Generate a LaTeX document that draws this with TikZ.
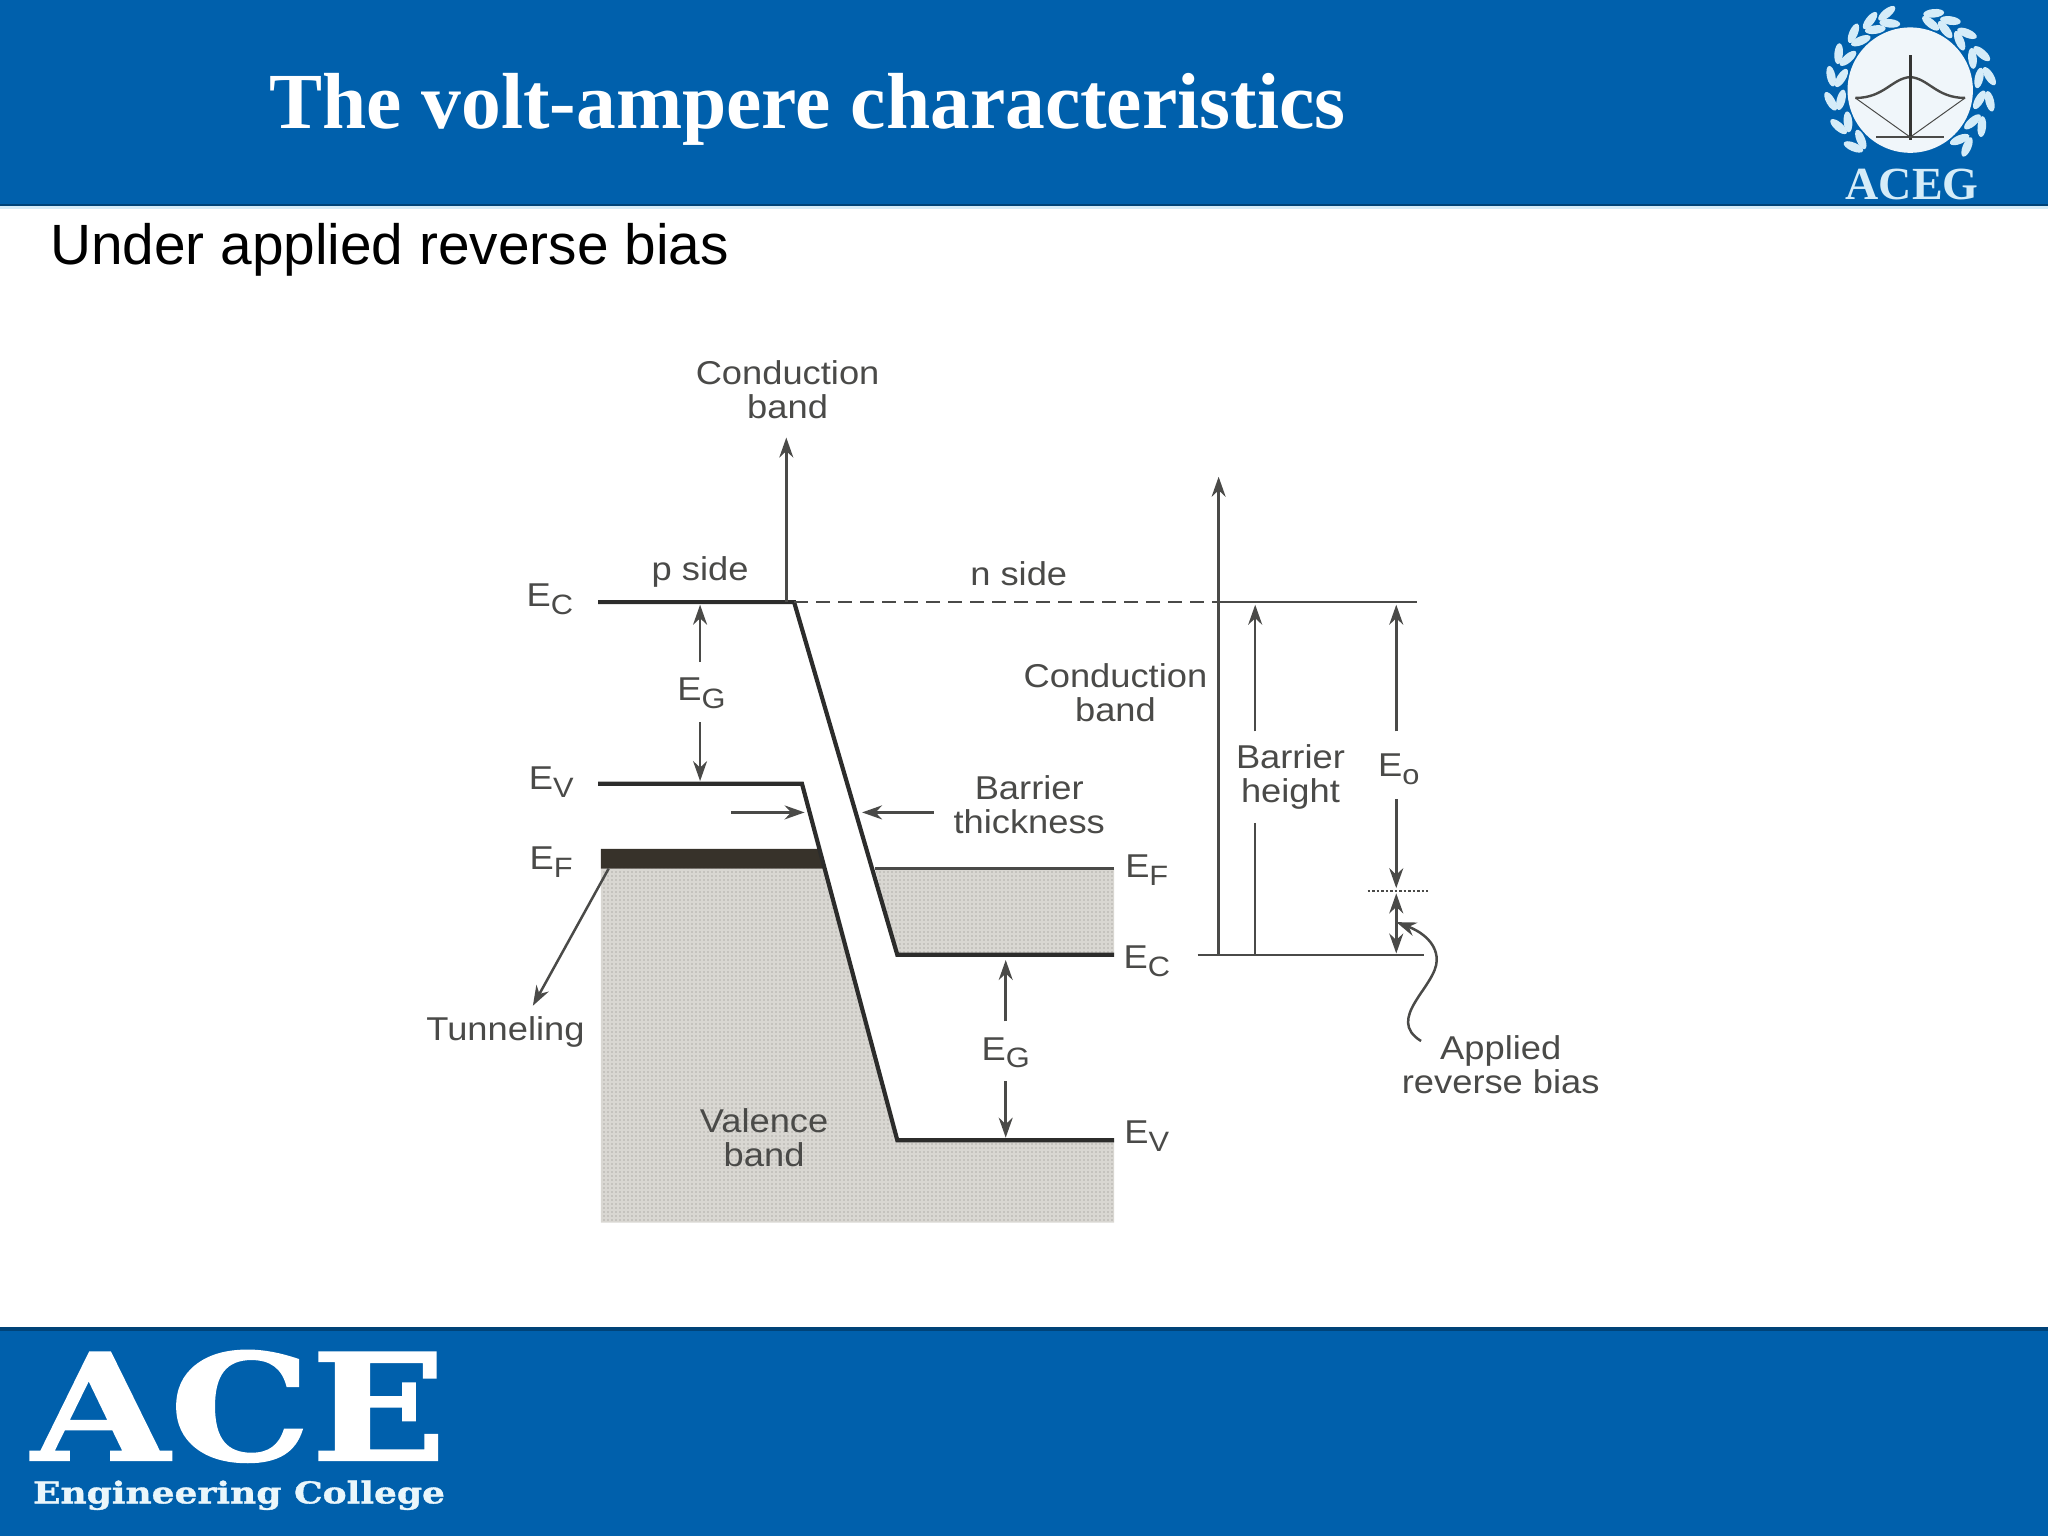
\documentclass[tikz,border=0pt]{standalone}
\usepackage{fontspec}
\setmainfont{Liberation Sans}
\newfontfamily\labelfont[FakeStretch=1.1]{Liberation Sans}
\newfontfamily\titlefont{Liberation Serif}
\newfontfamily\logofont[FakeStretch=1.2,FakeBold=1.2]{DejaVu Serif}
\usepackage{xcolor}
\usetikzlibrary{arrows.meta,positioning,calc,patterns.meta}
\definecolor{slideblue}{HTML}{0060AC}
\definecolor{inkgrey}{HTML}{4A4A48}
\definecolor{bandgrey}{HTML}{D9D7D2}
\definecolor{stipple}{HTML}{B2B0AA}
\definecolor{barblack}{HTML}{37322A}
\definecolor{leafblue}{HTML}{D5ECF8}
\newcommand{\lvl}[1]{E\raisebox{-0.45ex}{\fontsize{14}{14}\selectfont #1}}

\begin{document}
\begin{tikzpicture}[
  x=0.653061pt, y=-0.653061pt,
  >={Stealth[length=10pt,width=7pt]},
  every node/.style={align=center, text=inkgrey, font=\labelfont\fontsize{16.5}{17}\selectfont, inner sep=2pt},
  band/.style={draw=inkgrey!60!black, line width=2.1pt, line join=miter},
  thinline/.style={draw=inkgrey, line width=1.25pt},
  arrow/.style={->, draw=inkgrey, line width=1.25pt},
  shade/.style={fill=bandgrey, postaction={pattern={Dots[distance=2pt,radius=0.45pt]}, pattern color=stipple}},
  leaf/.style={fill=leafblue, draw=none}
]
\useasboundingbox (0,0) rectangle (1568,1176);

% HEADER AND FOOTER
\fill[slideblue] (0,0) rectangle (1568,157);
\fill[slideblue!70!black] (0,156) rectangle (1568,158);
\fill[leafblue] (0,158) rectangle (1568,160);
\fill[slideblue] (0,1018) rectangle (1568,1176);
\fill[slideblue!70!black] (0,1016) rectangle (1568,1019);

\node (title) [anchor=west, text=white, font=\titlefont\bfseries\fontsize{39.75}{42}\selectfont, inner sep=0pt] at (206,84)
      {The volt-ampere characteristics};
\node (subtitle) [anchor=west, text=black, font=\fontsize{28.4}{30}\selectfont, inner sep=0pt] at (38,191)
      {Under applied reverse bias};

% ACEG CREST
\begin{scope}[shift={(1462.5,69)}, x=0.653061pt, y=0.653061pt]
  \foreach \a in {107,120,135,153,170,188,207,225,73,60,45,27,10,-8,-27,-45} {
    \fill[leaf, shift={(\a:53.5)}, rotate=\a+68] (0,0) ellipse (8 and 3.3);
    \fill[leaf, shift={(\a:61.5)}, rotate=\a+112] (0,0) ellipse (8 and 3.3);
  }
  \fill[white!94!slideblue] (0,0) circle (48);
  \draw[inkgrey, line width=1.2pt] (-42,-6) .. controls (-20,-6) and (-14,9) .. (0,10)
        .. controls (14,9) and (20,-6) .. (42,-6);
  \draw[inkgrey, line width=0.5pt] (-42,-6) -- (0,-36) -- (42,-6);
  \draw[inkgrey!70!black, line width=1.5pt] (0,-38) -- (0,27);
  \draw[inkgrey, line width=0.8pt] (-26,-36) -- (26,-36);
\end{scope}
\node (aceg) [text=leafblue, font=\titlefont\bfseries\fontsize{23}{24}\selectfont, inner sep=0pt] at (1464,141) {ACEG};

% ACE LOGO
\node (ace) [anchor=base west, text=white, font=\logofont\bfseries\fontsize{74}{76}\selectfont, inner sep=0pt] at (24,1118) {ACE};
\node (college) [anchor=base west, text=leafblue!50!white, font=\logofont\bfseries\fontsize{15}{16}\selectfont, inner sep=0pt] at (25,1151) {Engineering College};

% BAND CORNERS
\coordinate (ecp)   at (458,461);
\coordinate (ecbend) at (608,461);
\coordinate (ecfoot) at (687,731);
\coordinate (ecn)   at (853,731);
\coordinate (evp)   at (458,600);
\coordinate (evbend) at (614,600);
\coordinate (evfoot) at (687,873);
\coordinate (evn)   at (853,873);
\coordinate (dashend) at (933,461);
\coordinate (topend) at (1085,461);
\coordinate (lowstart) at (917,731);
\coordinate (lowend) at (1090,731);

% SHADED REGIONS
\path[shade] (460,665) -- (632,665) -- (evfoot) -- (evn) -- (853,936) -- (460,936) -- cycle;
\path[shade] (670,665) -- (853,665) -- (ecn) -- (ecfoot) -- cycle;
\fill[barblack] (460,650) -- (628,650) -- (632,665) -- (460,665) -- cycle;

% LEVELS
\draw[band] (ecp) -- (ecbend) -- (ecfoot) -- (ecn);
\draw[band] (evp) -- (evbend) -- (evfoot) -- (evn);
\draw[thinline] (670,665) -- (853,665);
\draw[thinline, dash pattern=on 7pt off 4pt] (ecbend) -- (dashend);
\draw[thinline] (dashend) -- (topend);
\draw[thinline] (lowstart) -- (lowend);
\draw[thinline, densely dotted] (1047,682) -- (1093,682);

% LABELS
\node (cbtop)  at (603,298) {Conduction\\band};
\node (pside)  at (536,438) {p side};
\node (nside)  at (780,439) {n side};
\node (ecleft) at (421,459) {\lvl{C}};
\node (egleft) at (537,531) {\lvl{G}};
\node (evleft) at (422,599) {\lvl{V}};
\node (efleft) at (422,660) {\lvl{F}};
\node (tunnel) at (387,790) {Tunneling};
\node (valence) at (585,871) {Valence\\band};
\node (thick)  at (788,616) {Barrier\\thickness};
\node (cbmid)  at (854,530) {Conduction\\band};
\node (height) at (988,595) {Barrier\\height};
\node (eo)     at (1071,589) {E\raisebox{-0.45ex}{\fontsize{14}{14}\selectfont o}};
\node (efright) at (878,666) {\lvl{F}};
\node (ecright) at (878,736) {\lvl{C}};
\node (egright) at (770,806) {\lvl{G}};
\node (evright) at (878,870) {\lvl{V}};
\node (bias)   at (1149,815) {Applied\\reverse bias};

% ARROWS
\draw[arrow] (602,461) -- (602,335);
\draw[arrow] (536,507) -- (536,463);
\draw[arrow] (536,553) -- (536,598);
\draw[arrow] (560,622) -- (616,622);
\draw[arrow] (715,622) -- (660,622);
\draw[arrow] (466,665) -- (408,770);
\draw[arrow] (933,731) -- (933,365);
\draw[arrow] (961,560) -- (961,463);
\draw[thinline] (961,630) -- (961,731);
\draw[arrow] (1069,560) -- (1069,463);
\draw[arrow] (1069,612) -- (1069,680);
\draw[arrow] (1069,705) -- (1069,684);
\draw[arrow] (1069,700) -- (1069,730);
\draw[arrow] (770,782) -- (770,735);
\draw[arrow] (770,828) -- (770,871);
\draw[arrow] (1088,797) .. controls (1060,780) and (1100,755) .. (1100,735)
      .. controls (1100,720) and (1085,712) .. (1069,706);
\end{tikzpicture}
\end{document}
